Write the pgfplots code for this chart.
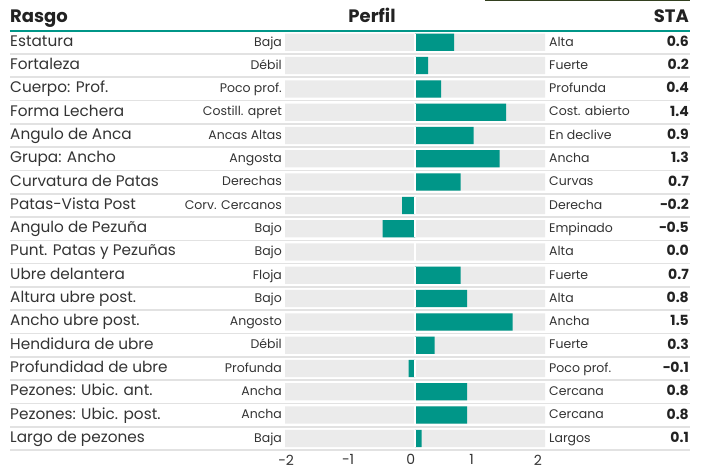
\documentclass[border=0pt]{standalone}
\usepackage{fontspec}
\setmainfont{Poppins}
\usepackage{pgfplots}
\usepackage{pgfplotstable}
\pgfplotsset{compat=1.18}

\definecolor{perfil}{HTML}{009688}
\definecolor{fondo}{HTML}{EBEBEB}
\definecolor{sep}{HTML}{E2E2E2}
\definecolor{txt}{HTML}{333333}
\definecolor{oscuro}{HTML}{222222}
\definecolor{franja}{HTML}{33401F}

% fila; rasgo; extremo bajo; extremo alto; valor STA; texto STA
\pgfplotstableread[col sep=semicolon]{
row;rasgo;low;high;sta;lab
1;Estatura;Baja;Alta;0.6;0.6
2;Fortaleza;Débil;Fuerte;0.2;0.2
3;Cuerpo: Prof.;Poco prof.;Profunda;0.4;0.4
4;Forma Lechera;Costill. apret;Cost. abierto;1.4;1.4
5;Angulo de Anca;Ancas Altas;En declive;0.9;0.9
6;Grupa: Ancho;Angosta;Ancha;1.3;1.3
7;Curvatura de Patas;Derechas;Curvas;0.7;0.7
8;Patas-Vista Post;Corv. Cercanos;Derecha;-0.2;−0.2
9;Angulo de Pezuña;Bajo;Empinado;-0.5;−0.5
10;Punt. Patas y Pezuñas;Bajo;Alta;0.0;0.0
11;Ubre delantera;Floja;Fuerte;0.7;0.7
12;Altura ubre post.;Bajo;Alta;0.8;0.8
13;Ancho ubre post.;Angosto;Ancha;1.5;1.5
14;Hendidura de ubre;Débil;Fuerte;0.3;0.3
15;Profundidad de ubre;Profunda;Poco prof.;-0.1;−0.1
16;Pezones: Ubic. ant.;Ancha;Cercana;0.8;0.8
17;Pezones: Ubic. post.;Ancha;Cercana;0.8;0.8
18;Largo de pezones;Baja;Largos;0.1;0.1
}\datos

\newcommand{\fnombre}{\fontsize{15.3bp}{17bp}\selectfont}
\newcommand{\fchico}{\fontsize{12.5bp}{14bp}\selectfont}

\begin{document}
\begin{tikzpicture}
\begin{axis}[
    scale only axis,
    width=680bp, height=452bp,
    xmin=-6.2308, xmax=4.2308,
    ymin=-0.8155, ymax=18.584,
    y dir=reverse,
    clip=false,
    axis line style={draw=none},
    tick style={draw=none},
    major tick length=0pt,
    xtick={-1.985,-1.03,-0.065,0.87,1.89},
    xticklabels={−2,−1,0,1,2},
    xticklabel style={anchor=north, inner sep=0pt, yshift=-2.5bp,
        font=\fontsize{14bp}{16bp}\selectfont, text=txt},
    ytick={1,...,18},
    yticklabels from table={\datos}{rasgo},
    yticklabel style={anchor=base west, inner sep=0pt, yshift=-3.9bp,
        font=\fnombre, text=txt},
    minor ytick={1.5,2.5,...,18.5},
    yminorgrids,
    minor grid style={draw=sep, line width=1.6bp},
    extra y ticks={0.5},
    extra y tick labels={},
    extra y tick style={ymajorgrids=true,
        major grid style={draw=perfil, line width=1.8bp}},
]
% fondo gris de cada fila
\addplot[xbar, bar shift=0pt, bar width=0.74, fill=fondo, draw=none]
    table[x expr=-2, y=row] {\datos};
\addplot[xbar, bar shift=0pt, bar width=0.74, fill=fondo, draw=none]
    table[x expr=2, y=row] {\datos};
% valores STA
\addplot[xbar, bar shift=0pt, bar width=0.74, fill=perfil, draw=none]
    table[x=sta, y=row] {\datos};
% separacion blanca en el cero
\addplot[only marks, mark=|, mark size=8.7bp,
    mark options={draw=white, line width=2bp}]
    table[x expr=0, y=row] {\datos};

% textos de los extremos y del valor
\addplot[draw=none, mark=none, nodes near coords, point meta=explicit symbolic,
    nodes near coords style={anchor=base east, inner sep=0pt, yshift=-3.7bp,
        font=\fchico, text=txt}]
    table[x expr=-2.046, y=row, meta=low] {\datos};
\addplot[draw=none, mark=none, nodes near coords, point meta=explicit symbolic,
    nodes near coords style={anchor=base west, inner sep=0pt, yshift=-3.7bp,
        font=\fchico, text=txt}]
    table[x expr=2.0615, y=row, meta=high] {\datos};
\addplot[draw=none, mark=none, nodes near coords, point meta=explicit symbolic,
    nodes near coords style={anchor=base east, inner sep=0pt, yshift=-3.9bp,
        font=\bfseries\fontsize{14bp}{16bp}\selectfont, text=oscuro}]
    table[x expr=4.2154, y=row, meta=lab] {\datos};

% encabezados
\node[anchor=base west, inner sep=0pt, text=oscuro,
    font=\bfseries\fontsize{18bp}{20bp}\selectfont] at (axis cs:-6.2308,0.15) {Rasgo};
\node[anchor=base, inner sep=0pt, text=oscuro,
    font=\bfseries\fontsize{18bp}{20bp}\selectfont] at (axis cs:-0.6615,0.15) {Perfil};
\node[anchor=base east, inner sep=0pt, text=oscuro,
    font=\bfseries\fontsize{18bp}{20bp}\selectfont] at (axis cs:4.2154,0.15) {STA};

% franja oscura arriba a la derecha
\fill[franja] (axis cs:1.077,-0.8155) rectangle (axis cs:4.2308,-0.76);
% marco de la imagen completa
\path (axis cs:-6.3846,-0.8155) rectangle (axis cs:4.4,19.32);
\end{axis}
\end{tikzpicture}
\end{document}
